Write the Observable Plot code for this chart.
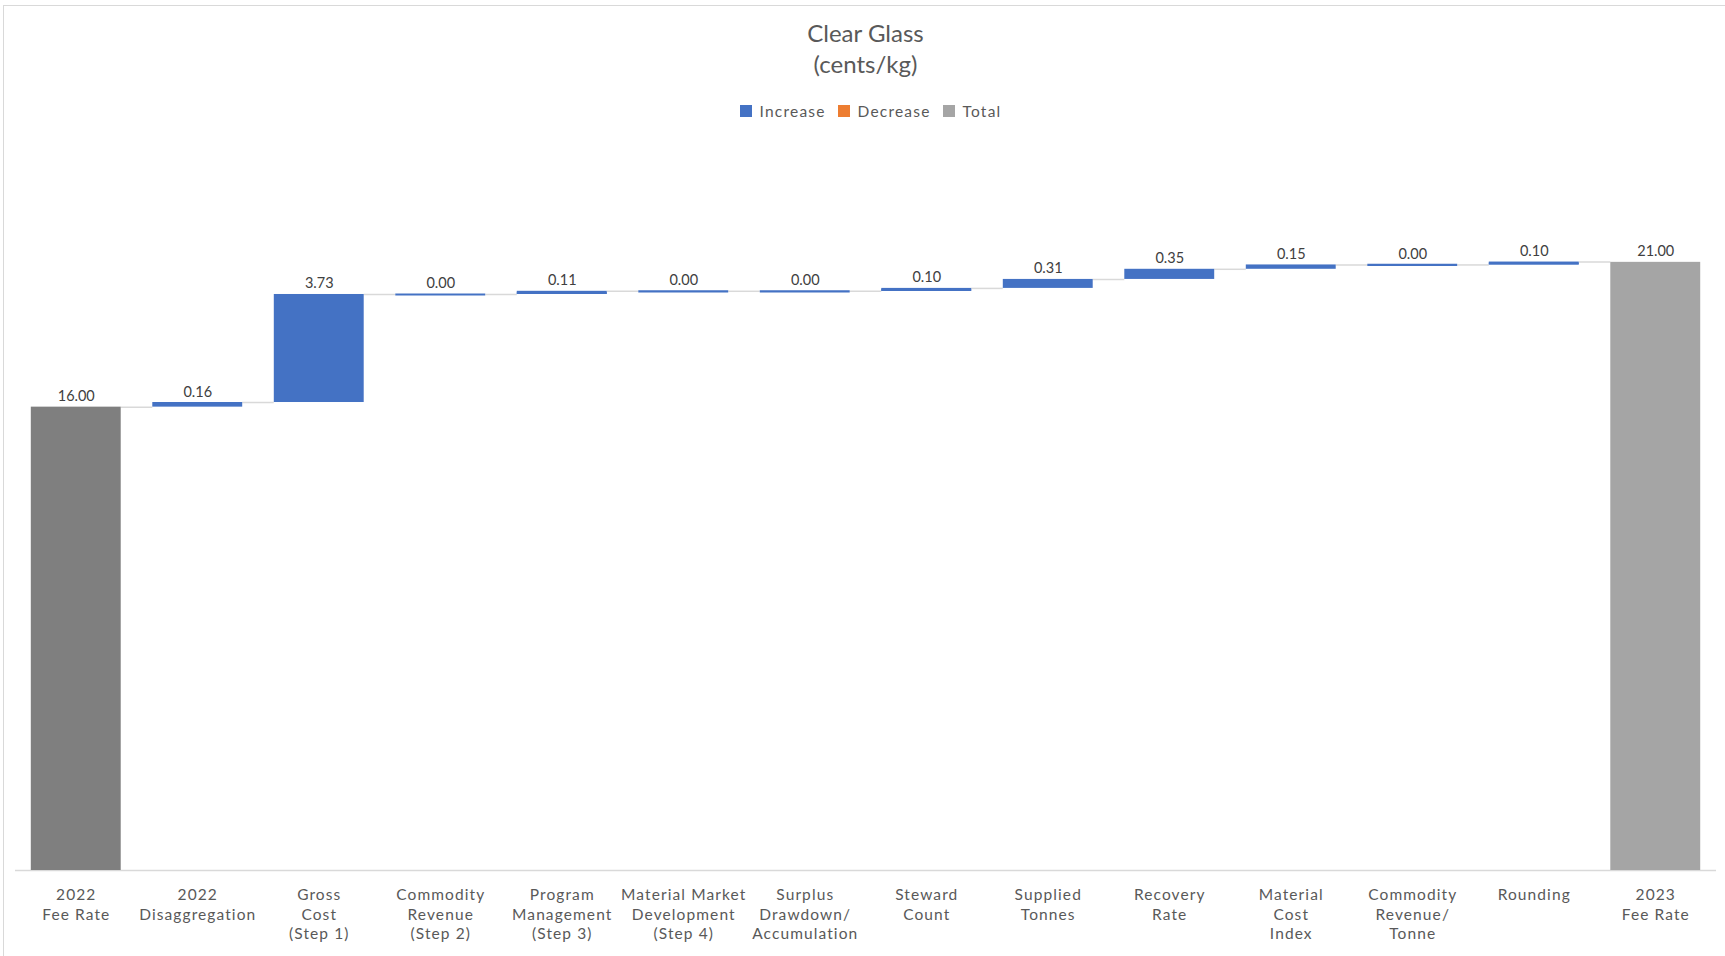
<!DOCTYPE html>
<html>
<head>
<meta charset="utf-8">
<script src="https://cdn.jsdelivr.net/npm/d3@7"></script>
<script src="https://cdn.jsdelivr.net/npm/@observablehq/plot@0.6"></script>
<style>
html, body { margin: 0; padding: 0; background: #fff; overflow: hidden; }
body { width: 1725px; height: 956px; position: relative; font-family: Lato, "Open Sans", sans-serif; }
#frame { position: absolute; left: 3px; top: 5px; width: 1760px; height: 990px; border: 1px solid #d9d9d9; box-sizing: border-box; pointer-events: none; }
#title { position: absolute; top: 17px; left: 15px; right: 9px; text-align: center; color: #595959; font-size: 24px; line-height: 31px; }
#legend { position: absolute; top: 101px; left: 25px; right: 9px; height: 20px; display: flex; justify-content: center; align-items: center; font-size: 15.5px; letter-spacing: 1.2px; color: #595959; }
#legend .item { display: flex; align-items: center; margin-right: 12px; }
#legend .item:last-child { margin-right: 0; }
#legend .sw { width: 12px; height: 12px; display: inline-block; margin-right: 8px; }
#chart { position: absolute; left: 0; top: 125px; }
#chart svg [aria-label="x-axis tick label"] text { letter-spacing: 1.1px; }
</style>
</head>
<body>
<div id="title">Clear Glass<br>(cents/kg)</div>
<div id="legend"></div>
<div id="chart"></div>
<div id="frame"></div>
<script>
// ---- data ----
const categories = [
  "2022\nFee Rate",
  "2022\nDisaggregation",
  "Gross\nCost\n(Step 1)",
  "Commodity\nRevenue\n(Step 2)",
  "Program\nManagement\n(Step 3)",
  "Material Market\nDevelopment\n(Step 4)",
  "Surplus\nDrawdown/\nAccumulation",
  "Steward\nCount",
  "Supplied\nTonnes",
  "Recovery\nRate",
  "Material\nCost\nIndex",
  "Commodity\nRevenue/\nTonne",
  "Rounding",
  "2023\nFee Rate"
];
const values = [16.00, 0.16, 3.73, 0.00, 0.11, 0.00, 0.00, 0.10, 0.31, 0.35, 0.15, 0.00, 0.10, 21.00];
const kinds = ["total", "increase", "increase", "increase", "increase", "increase", "increase",
               "increase", "increase", "increase", "increase", "increase", "increase", "total"];
const legendLabels = ["Increase", "Decrease", "Total"];

// ---- styles ----
const kindColors = {increase: "#4472C4", decrease: "#ED7D31", total: "#A5A5A5"};
const totalColors = ["#7F7F7F", "#A5A5A5"];

// ---- build waterfall table ----
let cum = 0, totalCount = 0;
const rows = categories.map((label, i) => {
  const v = values[i], k = kinds[i];
  let start, end, fill;
  if (k === "total") { start = 0; end = v; cum = v; fill = totalColors[totalCount++] || kindColors.total; }
  else if (k === "increase") { start = cum; end = cum + v; cum = end; fill = kindColors.increase; }
  else { start = cum; end = cum - v; cum = end; fill = kindColors.decrease; }
  return {i, label, value: v, kind: k, start, end, fill};
});
const hw = 0.37; // half bar width in band units
const connectors = rows.slice(0, -1).map((d, i) => ({x1: d.i + hw, x2: d.i + 1 - hw, y: d.end}));
const steps = rows.filter(d => d.kind !== "total");
const thinSteps = steps.filter(d => Math.abs(d.value) < 0.12);

// ---- legend ----
const legend = document.getElementById("legend");
legendLabels.forEach(l => {
  const item = document.createElement("div");
  item.className = "item";
  const sw = document.createElement("span");
  sw.className = "sw";
  sw.style.background = kindColors[l.toLowerCase()];
  item.appendChild(sw);
  item.appendChild(document.createTextNode(l));
  legend.appendChild(item);
});

// ---- chart ----
const chart = Plot.plot({
  width: 1725,
  height: 831,
  marginLeft: 15,
  marginRight: 9,
  marginTop: 21,
  marginBottom: 86,
  x: {type: "linear", domain: [-0.5, categories.length - 0.5], axis: null},
  y: {domain: [0, 25], axis: null},
  color: {type: "identity"},
  style: {fontFamily: "Lato, 'Open Sans', sans-serif", background: "#fff", overflow: "visible"},
  marks: [
    Plot.ruleY([0], {stroke: "#d9d9d9", strokeWidth: 1.5}),
    Plot.ruleY(connectors, {x1: "x1", x2: "x2", y: "y", stroke: "#d9d9d9", strokeWidth: 1.5}),
    Plot.rectY(rows.filter(d => d.kind === "total"), {
      x1: d => d.i - hw, x2: d => d.i + hw, y1: "start", y2: "end", fill: "fill"
    }),
    Plot.rectY(steps, {
      x1: d => d.i - hw, x2: d => d.i + hw, y1: "start", y2: "end", fill: "fill"
    }),
    // minimum visible thickness for small / zero steps
    Plot.ruleY(thinSteps, {
      x1: d => d.i - hw, x2: d => d.i + hw, y: d => (d.start + d.end) / 2, stroke: "fill", strokeWidth: 2.2
    }),
    Plot.text(rows, {
      x: "i", y: d => Math.max(d.start, d.end), text: d => d.value.toFixed(2),
      dy: -6, lineAnchor: "bottom", fontSize: 14.5, fill: "#404040"
    }),
    Plot.axisX(d3.range(categories.length), {
      tickSize: 0, tickPadding: 16, tickFormat: i => categories[i],
      fontSize: 15.5, lineHeight: 1.25, color: "#595959", lineAnchor: "top"
    })
  ]
});
document.getElementById("chart").appendChild(chart);
</script>
</body>
</html>
